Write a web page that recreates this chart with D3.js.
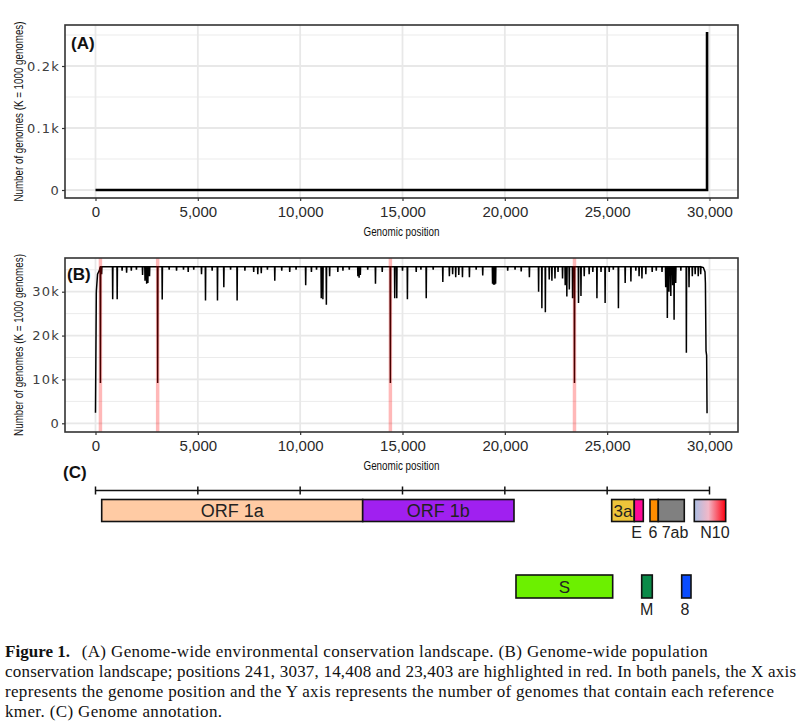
<!DOCTYPE html>
<html><head><meta charset="utf-8">
<script src="https://cdn.jsdelivr.net/npm/d3@7"></script>
<style>body{margin:0;background:#fff}svg{display:block}</style>
</head><body>
<svg id="c" width="803" height="728"></svg>
<script>
// ---------- data ----------
const xTicks = [0, 5000, 10000, 15000, 20000, 25000, 30000];
const xTickLabels = ["0", "5,000", "10,000", "15,000", "20,000", "25,000", "30,000"];

const aTicks = [0, 100, 200];
const aTickLabels = ["0", "0.1k", "0.2k"];
const aMinor = [50, 150, 250];
const aPos = [0, 29880, 29880];
const aVal = [0, 0, 255];

const bTicks = [0, 10000, 20000, 30000];
const bTickLabels = ["0", "10k", "20k", "30k"];
const bMinor = [5000, 15000, 25000, 35000];
const baseLevel = 35700;
const bStartPos = [0, 40, 100, 200, 350];
const bStartVal = [2400, 30000, 34000, 35000, 35700];
const dipPos = [241, 300, 840, 1060, 1300, 1520, 1750, 2000, 2300, 2420, 2500, 2560, 2640, 3037, 3260, 3600, 3960, 4300, 4530, 4800,
  5180, 5375, 5700, 5960, 6270, 6600, 6920, 7300, 7730, 7930, 8100, 8400, 8760, 9100, 9490, 9800, 10270, 10550, 10800,
  11030, 11110, 11280, 11440, 11840, 12090, 12400, 12820, 12880, 12940, 13300, 13680, 14010, 14408, 14620, 14720, 15000,
  15240, 15670, 15900, 16160, 16500, 16970, 17290, 17450, 17600, 17750, 17930, 18270, 18600, 18920, 19400, 19450, 19500,
  19550, 20140, 20500, 20800, 21200, 21650, 21810, 21980, 22170, 22300, 22450, 22600, 22820, 22950, 23030, 23150, 23310,
  23403, 23600, 23720, 23880, 24120, 24300, 24500, 24700, 24900, 25100, 25300, 25550, 25880, 26160, 26400, 26560, 26700,
  26890, 27200, 27400, 27680, 27860, 27940, 28020, 28110, 28200, 28270, 28350, 28600, 28870, 29000, 29160, 29300, 29450, 29570];
const dipVal = [9200, 34000, 28300, 28300, 34800, 34300, 34800, 35000, 33800, 32500, 31800, 32000, 33500, 9200, 28200, 35000, 34800, 35000, 34500, 35000,
  34000, 28000, 34800, 28000, 31000, 35000, 28000, 34800, 34500, 34000, 34200, 35000, 32500, 34800, 34500, 35000, 31500, 34500, 35000,
  28500, 28300, 27000, 33500, 34500, 34800, 35000, 33500, 33200, 33800, 35000, 31800, 34500, 9200, 28500, 28500, 34800,
  28300, 34500, 35000, 28500, 35000, 32200, 33500, 34000, 33300, 33800, 33300, 33300, 35000, 33700, 31800, 31600, 31600,
  31800, 34800, 35000, 34600, 33300, 30000, 26200, 25300, 32800, 32500, 33000, 34500, 33000, 31500, 28900, 30500, 28500,
  9200, 27400, 29000, 33500, 34000, 34500, 28500, 34500, 27400, 34500, 35000, 26200, 32000, 32300, 34800, 33500, 33000,
  34000, 34500, 34800, 34500, 31000, 24000, 30000, 29000, 31500, 23600, 32000, 34800, 16100, 31000, 33500, 34000, 33500, 34000];
const bEndPos = [29700, 29780, 29800, 29830, 29860, 29880];
const bEndVal = [35500, 34500, 32000, 16500, 15500, 2300];
const highlightPos = [241, 3037, 14408, 23403];

const geneNames  = ["ORF 1a", "ORF 1b", "3a", "E", "6", "7ab", "N10", "S", "M", "8"];
const geneStart  = [303, 13055, 25221, 26325, 27092, 27498, 29257, 20545, 26687, 28641];
const geneEnd    = [13055, 20448, 26325, 26765, 27498, 28768, 30791, 25270, 27205, 29096];
const geneRow    = [0, 0, 0, 0, 0, 0, 0, 1, 1, 1];
const geneColors = ["#FFCBA4", "#A020F0", "#EEC43A", "#FF0A96", "#FF8C00", "#808080", "url(#gradN)", "#6CF000", "#0A8A48", "#0A4CFF"];
const insideLabels = ["ORF 1a", "ORF 1b", "3a", "S"];
const belowLabels = ["E", "6", "7ab", "N10", "M", "8"];
const belowLabelPos = [26443, 27240, 28316, 30268, 26931, 28803];

const caption = [
  "conservation landscape; positions 241, 3037, 14,408 and 23,403 are highlighted in red. In both panels, the X axis",
  "represents the genome position and the Y axis represents the number of genomes that contain each reference",
  "kmer. (C) Genome annotation."
];

// ---------- drawing ----------
const svg = d3.select("#c");
const defs = svg.append("defs");
const g1 = defs.append("linearGradient").attr("id", "gradN");
g1.append("stop").attr("offset", "0%").attr("stop-color", "#a9bde3");
g1.append("stop").attr("offset", "45%").attr("stop-color", "#f2b8c8");
g1.append("stop").attr("offset", "100%").attr("stop-color", "#ff0010");

const x = d3.scaleLinear().domain([0, 30000]).range([95.5, 709.5]);
const panelL = 65, panelR = 738;
const tickFont = "'DejaVu Sans', Verdana, sans-serif";
const narrow = "'Liberation Sans Narrow', 'Arial Narrow', 'Liberation Sans', sans-serif";

function panel(top, bottom, y, ticks, tickLabels, minor, label, labelBaseline, titleLen) {
  const g = svg.append("g");
  const id = "clip" + top;
  defs.append("clipPath").attr("id", id).append("rect")
    .attr("x", panelL).attr("y", top).attr("width", panelR - panelL).attr("height", bottom - top);
  const grid = g.append("g").attr("clip-path", `url(#${id})`);
  grid.selectAll(".mi").data(minor).join("line")
    .attr("x1", panelL).attr("x2", panelR).attr("y1", d => y(d)).attr("y2", d => y(d))
    .attr("stroke", "#ebebeb").attr("stroke-width", 1);
  grid.selectAll(".ma").data(ticks).join("line")
    .attr("x1", panelL).attr("x2", panelR).attr("y1", d => y(d)).attr("y2", d => y(d))
    .attr("stroke", "#e8e8e8").attr("stroke-width", 1.8);
  grid.selectAll(".mv").data(xTicks).join("line")
    .attr("y1", top).attr("y2", bottom).attr("x1", d => x(d)).attr("x2", d => x(d))
    .attr("stroke", "#e8e8e8").attr("stroke-width", 1.8);

  // axes
  const ax = d3.axisBottom(x).tickValues(xTicks).tickFormat((d, i) => xTickLabels[i]).tickSize(3).tickPadding(5);
  const gx = g.append("g").attr("transform", `translate(0,${bottom})`).call(ax);
  gx.select(".domain").remove();
  gx.selectAll("line").attr("stroke", "#333").attr("stroke-width", 1.2);
  gx.selectAll("text").attr("font-family", "'Liberation Sans', Arial, sans-serif").attr("font-size", 15).attr("fill", "#2a2a2a");

  const ay = d3.axisLeft(y).tickValues(ticks).tickFormat((d, i) => tickLabels[i]).tickSize(3).tickPadding(2);
  const gy = g.append("g").attr("transform", `translate(${panelL},0)`).call(ay);
  gy.select(".domain").remove();
  gy.selectAll("line").attr("stroke", "#333").attr("stroke-width", 1.2);
  gy.selectAll("text").attr("font-family", tickFont).attr("font-size", 13).attr("fill", "#404040")
    .attr("letter-spacing", 1.2);

  // axis titles
  g.append("text").attr("transform", `translate(23,${(top + bottom) / 2}) rotate(-90)`)
    .attr("text-anchor", "middle").attr("font-family", narrow).attr("font-size", 13)
    .attr("textLength", titleLen).attr("lengthAdjust", "spacingAndGlyphs").attr("fill", "#111")
    .text("Number of genomes (K = 1000 genomes)");
  g.append("text").attr("x", (panelL + panelR) / 2).attr("y", bottom + 38)
    .attr("text-anchor", "middle").attr("font-family", narrow).attr("font-size", 13)
    .attr("textLength", 76).attr("lengthAdjust", "spacingAndGlyphs").attr("fill", "#111")
    .text("Genomic position");

  return {g, clip: id, top, bottom, label, labelBaseline};
}

function finish(p) {
  p.g.append("rect").attr("x", panelL).attr("y", p.top).attr("width", panelR - panelL).attr("height", p.bottom - p.top)
    .attr("fill", "none").attr("stroke", "#333").attr("stroke-width", 1.6);
  p.g.append("text").attr("x", p.label === "(A)" ? 71 : 67).attr("y", p.labelBaseline)
    .attr("font-family", "'Liberation Sans', Arial, sans-serif").attr("font-weight", "bold").attr("font-size", 17)
    .attr("fill", "#111").text(p.label);
}

// Panel A
const yA = d3.scaleLinear().domain([0, 200]).range([190, 66]);
const pA = panel(25, 198, yA, aTicks, aTickLabels, aMinor, "(A)", 49, 180);
const lineA = d3.line().x(d => x(d[0])).y(d => yA(d[1]));
pA.g.append("path").attr("clip-path", `url(#${pA.clip})`)
  .datum(aPos.map((p, i) => [p, aVal[i]]))
  .attr("d", lineA).attr("fill", "none").attr("stroke", "#000").attr("stroke-width", 2.6);
finish(pA);

// Panel B
const yB = d3.scaleLinear().domain([0, 30000]).range([423.3, 291.7]);
const pB = panel(258, 432, yB, bTicks, bTickLabels, bMinor, "(B)", 280, 182);
const ptsB = [];
bStartPos.forEach((p, i) => ptsB.push([p, bStartVal[i]]));
dipPos.forEach((p, i) => {
  ptsB.push([p - 12, baseLevel]);
  ptsB.push([p, dipVal[i]]);
  ptsB.push([p + 12, baseLevel]);
});
bEndPos.forEach((p, i) => ptsB.push([p, bEndVal[i]]));
ptsB.sort((a, b) => a[0] - b[0]);
const lineB = d3.line().x(d => x(d[0])).y(d => yB(d[1]));
pB.g.append("path").attr("clip-path", `url(#${pB.clip})`)
  .datum(ptsB).attr("d", lineB).attr("fill", "none").attr("stroke", "#000").attr("stroke-width", 1.5)
  .attr("stroke-linejoin", "miter");
pB.g.append("g").attr("clip-path", `url(#${pB.clip})`).selectAll("rect").data(highlightPos).join("rect")
  .attr("x", d => x(d - 85)).attr("width", d => x(d + 85) - x(d - 85))
  .attr("y", pB.top).attr("height", pB.bottom - pB.top)
  .attr("fill", "#ff0000").attr("fill-opacity", 0.28);
finish(pB);

// Panel C
const gc = svg.append("g");
gc.append("text").attr("x", 63).attr("y", 478).attr("font-family", "'Liberation Sans', Arial, sans-serif")
  .attr("font-weight", "bold").attr("font-size", 17).attr("fill", "#111").text("(C)");
const axisY = 490.5;
gc.append("line").attr("x1", x(0)).attr("x2", x(30000)).attr("y1", axisY).attr("y2", axisY)
  .attr("stroke", "#111").attr("stroke-width", 1.5);
gc.selectAll(".ct").data(xTicks).join("line")
  .attr("x1", d => x(d)).attr("x2", d => x(d)).attr("y1", axisY - 4).attr("y2", axisY + 4)
  .attr("stroke", "#111").attr("stroke-width", 1.5);

const rowTop = [499.5, 575];
const rowH = [22, 23];
const gi = d3.range(geneNames.length);
gc.selectAll(".gene").data(gi).join("rect")
  .attr("x", i => x(geneStart[i])).attr("width", i => x(geneEnd[i]) - x(geneStart[i]))
  .attr("y", i => rowTop[geneRow[i]]).attr("height", i => rowH[geneRow[i]])
  .attr("fill", i => geneColors[i]).attr("stroke", "#111").attr("stroke-width", 1.6);

const lab = "'Liberation Sans', Arial, sans-serif";
gc.selectAll(".gin").data(gi.filter(i => insideLabels.includes(geneNames[i]))).join("text")
  .attr("x", i => (x(geneStart[i]) + x(geneEnd[i])) / 2)
  .attr("y", i => rowTop[geneRow[i]] + rowH[geneRow[i]] / 2 + 6)
  .attr("text-anchor", "middle").attr("font-family", lab)
  .attr("font-size", i => geneNames[i].startsWith("ORF") ? 18 : 17)
  .attr("fill", "#222").text(i => geneNames[i]);
gc.selectAll(".gbl").data(belowLabels).join("text")
  .attr("x", (d, i) => x(belowLabelPos[i]))
  .attr("y", d => (d === "M" || d === "8") ? 615 : 538)
  .attr("text-anchor", "middle").attr("font-family", lab).attr("font-size", 16)
  .attr("fill", "#222").text(d => d);

// Caption
const serif = "'Liberation Serif', 'Times New Roman', serif";
const cap = svg.append("g").attr("font-family", serif).attr("font-size", 17).attr("fill", "#111");
cap.append("text").attr("x", 5).attr("y", 656.5).attr("font-weight", "bold").attr("textLength", 65).text("Figure 1.");
cap.append("text").attr("x", 81.7).attr("y", 656.5).attr("textLength", 626)
  .text("(A) Genome-wide environmental conservation landscape. (B) Genome-wide population");
const capLens = [791, 769, 217];
caption.forEach((t, i) => {
  cap.append("text").attr("x", 5).attr("y", 676.5 + 20 * i).attr("textLength", capLens[i]).text(t);
});
</script>
</body></html>
